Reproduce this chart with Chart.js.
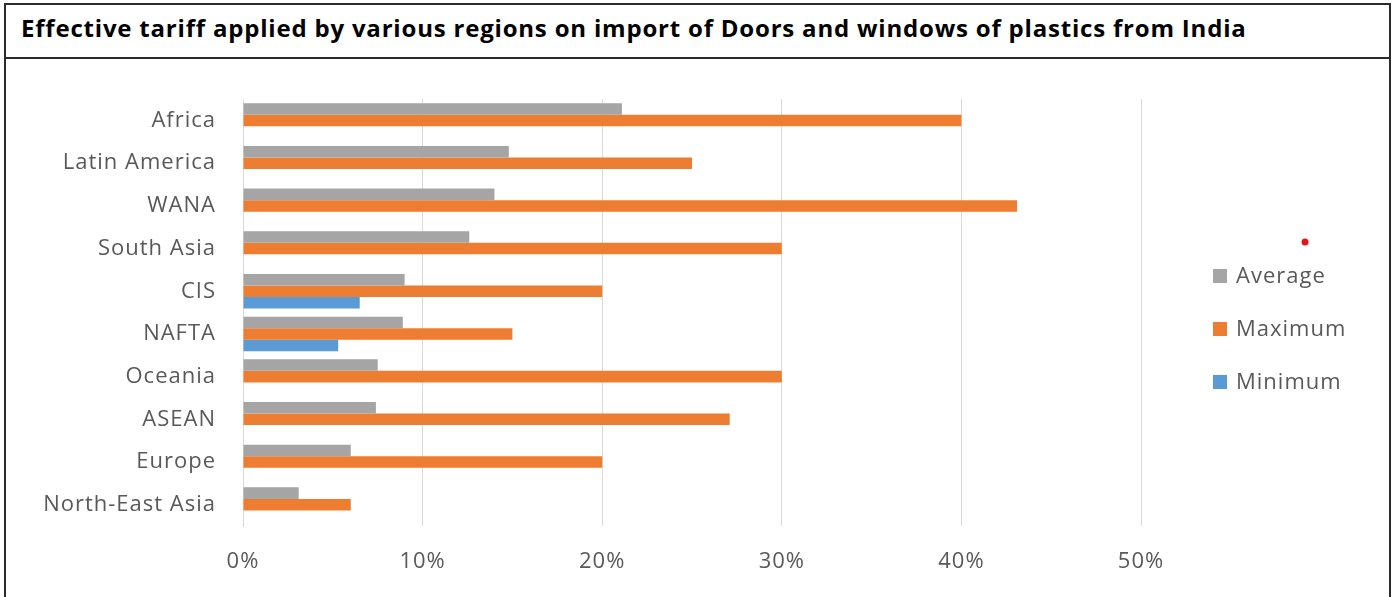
<!DOCTYPE html>
<html>
<head>
<meta charset="utf-8">
<script src="https://cdn.jsdelivr.net/npm/chart.js@4.4.1/dist/chart.umd.min.js"></script>
<style>
  body { margin: 0; background: #fff; }
  #frame {
    position: absolute; left: 4px; top: 3px;
    width: 1383px; height: 600px;
    border: 2px solid #2b2b2b; border-bottom: none;
  }
  #title {
    height: 52px; border-bottom: 2px solid #2b2b2b;
    font-family: "Open Sans", Lato, sans-serif; font-weight: bold;
    font-size: 24px; line-height: 45px; padding-left: 15px;
    letter-spacing: 0.8px; color: #000; white-space: nowrap;
  }
  #wrap { position: relative; width: 1383px; height: 538px; }
</style>
</head>
<body>
<div id="frame">
  <div id="title">Effective tariff applied by various regions on import of Doors and windows of plastics from India</div>
  <div id="wrap"><canvas id="chart"></canvas></div>
</div>
<script>
const regions = ['Africa', 'Latin America', 'WANA', 'South Asia', 'CIS', 'NAFTA',
  'Oceania', 'ASEAN', 'Europe', 'North-East Asia'];
const averageTariff = [21.1, 14.8, 14.0, 12.6, 9.0, 8.9, 7.5, 7.4, 6.0, 3.1];
const maximumTariff = [40, 25, 43.1, 30, 20, 15, 30, 27.1, 20, 6];
const minimumTariff = [null, null, null, null, 6.5, 5.3, null, null, null, null];
const xTicks = [0, 10, 20, 30, 40, 50];

const labelFont = { family: '"Open Sans", Lato, sans-serif', size: 22 };
const textGrey = '#595959';

// the original font is wider than Open Sans, spread letters a bit
const wideText = {
  id: 'wideText',
  beforeDraw(chart) { chart.ctx.letterSpacing = '1px'; },
};

// legend drawn by hand so it can sit where Excel put it
const sideLegend = {
  id: 'sideLegend',
  afterDraw(chart) {
    const ctx = chart.ctx;
    const x0 = chart.chartArea.right + 72;
    const midY = chart.height / 2 + 1;
    ctx.save();
    ctx.font = labelFont.size + 'px ' + labelFont.family;
    ctx.textBaseline = 'middle';
    chart.data.datasets.forEach((ds, i) => {
      const y = midY + (i - 1) * 53;
      ctx.fillStyle = ds.backgroundColor;
      ctx.fillRect(x0, y - 7, 14, 14);
      ctx.fillStyle = textGrey;
      ctx.fillText(ds.label, x0 + 23, y + 1);
    });
    // stray red dot in the original picture
    ctx.fillStyle = '#e8121b';
    ctx.beginPath();
    ctx.arc(x0 + 92, midY - 87, 3.5, 0, Math.PI * 2);
    ctx.fill();
    ctx.restore();
  }
};

new Chart(document.getElementById('chart'), {
  type: 'bar',
  data: {
    labels: regions,
    datasets: [
      { label: 'Average', data: averageTariff, backgroundColor: '#a5a5a5' },
      { label: 'Maximum', data: maximumTariff, backgroundColor: '#ed7d31' },
      { label: 'Minimum', data: minimumTariff, backgroundColor: '#5b9bd5' },
    ],
  },
  options: {
    indexAxis: 'y',
    responsive: true,
    maintainAspectRatio: false,
    animation: false,
    categoryPercentage: 0.81,
    barPercentage: 1,
    layout: { padding: { left: 7, right: 248, top: 32, bottom: 0 } },
    plugins: {
      legend: { display: false },
      tooltip: { enabled: false },
    },
    scales: {
      x: {
        min: 0, max: 50,
        afterBuildTicks: scale => { scale.ticks = xTicks.map(v => ({ value: v })); },
        afterFit: scale => { scale.height = 71; },
        grid: { color: '#d9d9d9', drawTicks: false },
        border: { display: false },
        ticks: {
          font: labelFont, color: textGrey, padding: 23,
          callback: v => v + '%',
        },
      },
      y: {
        afterFit: scale => { scale.width = 230; },
        grid: { display: false, drawTicks: false },
        border: { color: '#d9d9d9' },
        ticks: { font: labelFont, color: textGrey, padding: 27 },
      },
    },
  },
  plugins: [wideText, sideLegend],
});
</script>
</body>
</html>
